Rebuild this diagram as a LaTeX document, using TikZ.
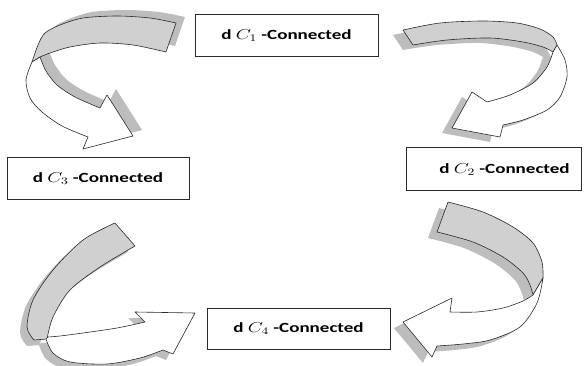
\documentclass[tikz,border=0pt]{standalone}
\usepackage{fontspec}
\usepackage{graphicx}
\setmainfont{Carlito}
\definecolor{ribbon}{HTML}{D0D0D0}
\definecolor{shade}{HTML}{BDBDBD}
\definecolor{edge}{HTML}{2A2A2A}
\tikzset{
  box/.style={draw=edge, fill=white, line width=1pt, inner sep=0pt,
    font=\bfseries\fontsize{14}{16}\selectfont},
  rib/.style={fill=ribbon, draw=edge, line width=0.6pt, line join=round},
  rwhite/.style={fill=white, draw=edge, line width=0.6pt, line join=round},
  shad/.style={fill=shade},
}
\newcommand\lbl[1]{\scalebox{1.36}[1]{d $C_{#1}$ -Connected}}
% ribbon A (top left)
\newcommand\grayA[1]{\path[#1] plot[smooth] coordinates {(176,23)(150,18)(117,16)(83,18)(60,25)(45,33)(38,45)(32,62)} -- plot[smooth] coordinates {(40,57)(50,53)(70,47)(100,43)(133,45)(166,52)} -- cycle;}
\newcommand\whiteA[1]{\path[#1] plot[smooth] coordinates {(32,62)(26,80)(30,98)(42,112)(62,126)(88,137)} -- (83,149) -- (133,136) -- (107,95) -- (100,108) -- plot[smooth] coordinates {(100,108)(75,97)(57,85)(46,71)(40,57)} -- cycle;}
% ribbon B (top right)
\newcommand\grayB[1]{\path[#1] plot[smooth] coordinates {(403,30)(440,23)(483,21)(517,23)(540,29)(553,37)(557,45)} -- plot[smooth] coordinates {(553,52)(543,47)(523,42)(490,38)(447,40)(413,45)} -- cycle;}
\newcommand\whiteB[1]{\path[#1] plot[smooth] coordinates {(557,45)(565,60)(567,77)(560,97)(547,110)(523,120)(503,125)} -- (500,137) -- (452,128) -- (472,92) -- (487,102) -- plot[smooth] coordinates {(487,102)(510,95)(533,83)(547,67)(553,52)} -- cycle;}
% ribbon C (bottom left)
\newcommand\grayC[1]{\path[#1] plot[smooth] coordinates {(115,223)(83,240)(53,270)(33,300)(27,327)(34,340)} -- plot[smooth] coordinates {(47,339)(53,317)(70,290)(100,267)(135,246)} -- cycle;}
\newcommand\whiteC[1]{\path[#1] plot[smooth] coordinates {(46,339)(53,353)(70,362)(107,364)(140,358)(163,350)} -- (173,354) -- (195,313) -- (135,312) -- (145,322) -- plot[smooth] coordinates {(145,322)(117,328)(83,333)(60,336)(48,337)} -- cycle;}
% ribbon D (bottom right)
\newcommand\grayD[1]{\path[#1] plot[smooth] coordinates {(448,202)(483,212)(513,227)(533,243)(542,262)(543,278)} -- plot[smooth] coordinates {(533,295)(530,285)(523,273)(503,257)(473,242)(437,232)} -- cycle;}
\newcommand\whiteD[1]{\path[#1] plot[smooth] coordinates {(543,278)(537,303)(520,327)(490,340)(463,344)(437,346)} -- (432,357) -- (403,322) -- (452,298) -- (450,312) -- plot[smooth] coordinates {(450,312)(477,312)(503,308)(523,301)(533,295)} -- cycle;}
\begin{document}
\begin{tikzpicture}[x=1pt,y=-1pt]
\useasboundingbox (0,0) rectangle (586,366);
% shadows
\begin{scope}[shift={(9,-6)}]\grayA{shad}\whiteA{shad}\end{scope}
\begin{scope}[shift={(-10,5)}]\grayB{shad}\whiteB{shad}\end{scope}
\begin{scope}[shift={(-7,6)}]\grayC{shad}\whiteC{shad}\end{scope}
\begin{scope}[shift={(-9,6)}]\grayD{shad}\whiteD{shad}\end{scope}
% ribbons
\grayA{rib}\whiteA{rwhite}
\grayB{rib}\whiteB{rwhite}
\grayC{rib}\whiteC{rwhite}
\grayD{rib}\whiteD{rwhite}
% boxes
\node[box, minimum width=183pt, minimum height=42pt] (c1) at (286.5,36) {\lbl{1}};
\node[box, minimum width=175pt, minimum height=43pt] (c2) at (493.5,169.5) {\hspace*{22pt}\lbl{2}};
\node[box, minimum width=182pt, minimum height=42pt] (c3) at (98,179) {\lbl{3}};
\node[box, minimum width=183pt, minimum height=41pt] (c4) at (298.5,328.5) {\lbl{4}};
\end{tikzpicture}
\end{document}
